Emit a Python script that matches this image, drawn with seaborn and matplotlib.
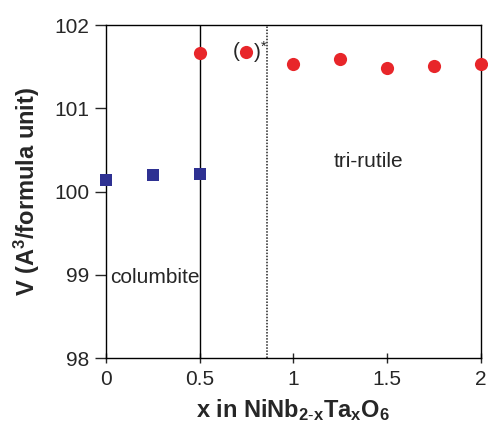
import matplotlib
matplotlib.use("Agg")
import matplotlib.pyplot as plt
import pandas as pd
import seaborn as sns

# columbite phase
x_col = [0.0, 0.25, 0.5]
v_col = [100.14, 100.20, 100.21]

# tri-rutile phase
x_tri = [0.5, 0.75, 1.0, 1.25, 1.5, 1.75, 2.0]
v_tri = [101.67, 101.68, 101.53, 101.59, 101.48, 101.51, 101.53]

x_ticks = [0, 0.5, 1, 1.5, 2]
x_tick_labels = ["0", "0.5", "1", "1.5", "2"]
y_ticks = [98, 99, 100, 101, 102]

sns.set_style("ticks")
plt.rcParams['font.family'] = ['Liberation Sans', 'DejaVu Sans']
plt.rcParams['mathtext.fontset'] = 'custom'
plt.rcParams['mathtext.rm'] = 'Liberation Sans'
plt.rcParams['mathtext.bf'] = 'Liberation Sans:bold'
plt.rcParams['mathtext.it'] = 'Liberation Sans:italic'

df_col = pd.DataFrame({"x": x_col, "V": v_col})
df_tri = pd.DataFrame({"x": x_tri, "V": v_tri})

fig = plt.figure(figsize=(4.88, 4.41), dpi=100)
ax = fig.add_axes([0.217, 0.188, 0.768, 0.755])

ax.axvline(0.5, color="black", lw=1.0, zorder=1)
ax.axvline(0.86, color="#222222", lw=1.1, ls=(0, (1, 1)), zorder=1)

sns.scatterplot(data=df_col, x="x", y="V", ax=ax, marker="s", s=78,
                color="#2E3192", linewidth=0, zorder=3, clip_on=False)
sns.scatterplot(data=df_tri, x="x", y="V", ax=ax, marker="o", s=90,
                color="#E8262A", linewidth=0, zorder=3, clip_on=False)

ax.annotate("(", xy=(x_tri[1], v_tri[1]), xytext=(-4.5, 0), textcoords="offset points",
            ha="right", va="center", fontsize=15)
ax.annotate(r")$^{*}$", xy=(x_tri[1], v_tri[1]), xytext=(4.5, 0), textcoords="offset points",
            ha="left", va="center", fontsize=15)
ax.text(1.4, 100.36, "tri-rutile", ha="center", va="center", fontsize=15)
ax.text(0.025, 98.97, "columbite", ha="left", va="center", fontsize=15)

ax.set_xlim(0, 2)
ax.set_ylim(98, 102)
ax.set_xticks(x_ticks)
ax.set_xticklabels(x_tick_labels)
ax.set_yticks(y_ticks)
ax.tick_params(axis="x", direction="inout", length=7, width=1, labelsize=15, pad=5)
ax.tick_params(axis="y", direction="out", length=8, width=1, labelsize=15, pad=4)
for sp in ax.spines.values():
    sp.set_visible(True)
    sp.set_linewidth(1.0)
    sp.set_color("black")

ax.set_xlabel(r"x in NiNb$_{\mathbf{2\text{-}x}}$Ta$_{\mathbf{x}}$O$_{\mathbf{6}}$",
              fontsize=17, fontweight="bold", labelpad=6)
ax.set_ylabel(r"V (A$^{\mathbf{3}}$/formula unit)", fontsize=17, fontweight="bold", labelpad=9)

fig.savefig("out.png", dpi=100)
